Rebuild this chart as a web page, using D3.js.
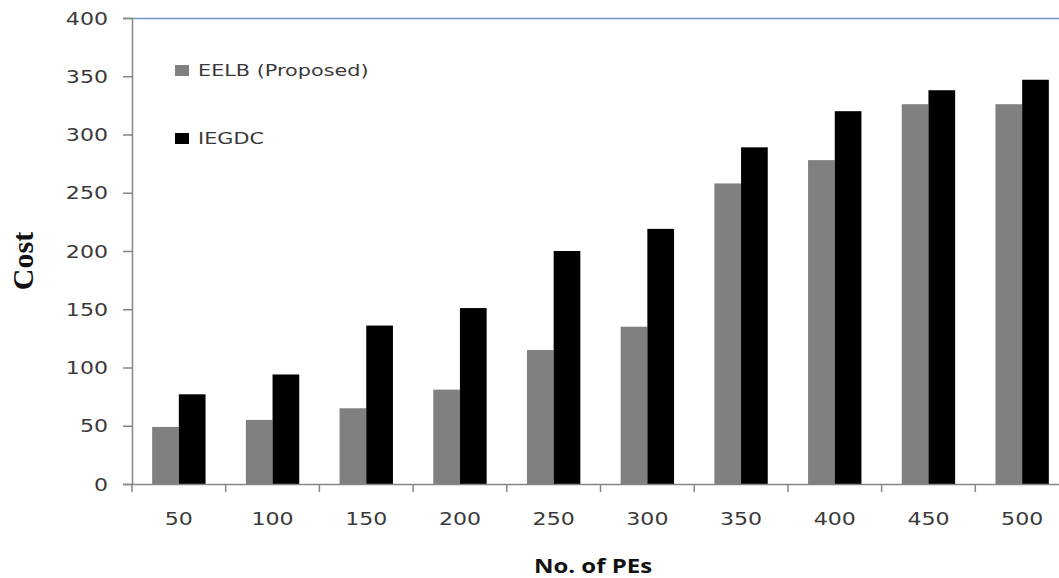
<!DOCTYPE html>
<html>
<head>
<meta charset="utf-8">
<script src="https://cdn.jsdelivr.net/npm/d3@7"></script>
<style>
  html, body { margin: 0; padding: 0; background: #fff; }
  svg { display: block; }
</style>
</head>
<body>
<svg id="chart" width="1059" height="578"></svg>
<script>
// Data
const categories = ["50", "100", "150", "200", "250", "300", "350", "400", "450", "500"];
const seriesNames = ["EELB (Proposed)", "IEGDC"];
const eelb  = [49, 55, 65, 81, 115, 135, 258, 278, 326, 326];
const iegdc = [77, 94, 136, 151, 200, 219, 289, 320, 338, 347];
const yTicks = [0, 50, 100, 150, 200, 250, 300, 350, 400];
const seriesColors = ["#808080", "#000000"];

const svg = d3.select("#chart");
const plot = { left: 132, top: 18, bottom: 484, right: 1069 };
const stretch = 1.3; // wide text rendering

const x0 = d3.scaleBand().domain(categories).range([plot.left, plot.right]).padding(0);
const x1 = d3.scaleBand().domain(seriesNames).range([0, x0.bandwidth()])
  .paddingInner(0).paddingOuter(0.755);
const y = d3.scaleLinear().domain([0, 400]).range([plot.bottom, plot.top]);

const axisColor = "#868686";
const textColor = "#3a3a3a";

// Top border of the plot area
svg.append("line")
  .attr("x1", plot.left).attr("x2", 1059)
  .attr("y1", plot.top + 0.5).attr("y2", plot.top + 0.5)
  .attr("stroke", "#6f94c8").attr("stroke-width", 1.5);

// Bars
const rows = categories.map((c, i) => ({ cat: c, vals: [eelb[i], iegdc[i]] }));
const groups = svg.append("g").selectAll("g").data(rows).join("g")
  .attr("transform", d => `translate(${x0(d.cat)},0)`);
groups.selectAll("rect")
  .data(d => d.vals.map((v, j) => ({ name: seriesNames[j], v, j })))
  .join("rect")
  .attr("x", d => x1(d.name))
  .attr("width", x1.bandwidth())
  .attr("y", d => y(d.v))
  .attr("height", d => y(0) - y(d.v))
  .attr("fill", d => seriesColors[d.j]);

// Y axis
const yAxis = svg.append("g")
  .attr("transform", `translate(${plot.left},0)`)
  .call(d3.axisLeft(y).tickValues(yTicks).tickSize(9).tickPadding(0).tickFormat(d3.format("d")));
yAxis.select(".domain").attr("stroke", axisColor).attr("stroke-width", 1.5);
yAxis.selectAll(".tick line").attr("stroke", axisColor).attr("stroke-width", 1.5);
yAxis.selectAll(".tick text")
  .attr("x", -24 / stretch)
  .attr("dy", "0.36em")
  .attr("transform", `scale(${stretch},1)`)
  .attr("font-family", "DejaVu Sans, Verdana, sans-serif")
  .attr("font-size", 17)
  .attr("fill", textColor);

// X axis
const xAxis = svg.append("g")
  .attr("transform", `translate(0,${plot.bottom})`)
  .call(d3.axisBottom(x0).tickSize(0).tickPadding(0));
xAxis.select(".domain").attr("stroke", axisColor).attr("stroke-width", 1.5);
xAxis.selectAll(".tick text")
  .attr("y", 41).attr("dy", 0)
  .attr("transform", `scale(${stretch},1)`)
  .attr("font-family", "DejaVu Sans, Verdana, sans-serif")
  .attr("font-size", 17)
  .attr("fill", textColor);
// category boundary ticks
const boundaries = categories.map(c => x0(c)).concat([plot.right]);
svg.append("g").selectAll("line").data(boundaries).join("line")
  .attr("x1", d => d).attr("x2", d => d)
  .attr("y1", plot.bottom).attr("y2", plot.bottom + 8)
  .attr("stroke", axisColor).attr("stroke-width", 1.5);

// Axis titles
svg.append("text")
  .attr("transform", `translate(593,573) scale(1.2,1)`)
  .attr("text-anchor", "middle")
  .attr("font-family", "Open Sans, sans-serif")
  .attr("font-weight", "bold")
  .attr("font-size", 20)
  .attr("fill", "#111")
  .text("No. of PEs");

svg.append("text")
  .attr("transform", `translate(33,261) rotate(-90)`)
  .attr("text-anchor", "middle")
  .attr("font-family", "Liberation Serif, Times New Roman, serif")
  .attr("font-weight", "bold")
  .attr("font-size", 30)
  .attr("fill", "#111")
  .text("Cost");

// Legend
const legend = svg.append("g").selectAll("g").data(seriesNames).join("g")
  .attr("transform", (d, i) => `translate(175,${70 + i * 68})`);
legend.append("rect")
  .attr("x", 0).attr("y", -5).attr("width", 14).attr("height", 11)
  .attr("fill", (d, i) => seriesColors[i]);
legend.append("text")
  .attr("transform", `translate(23,0) scale(${stretch},1)`)
  .attr("dy", "0.36em")
  .attr("font-family", "DejaVu Sans, Verdana, sans-serif")
  .attr("font-size", 16)
  .attr("fill", textColor)
  .text(d => d);
</script>
</body>
</html>
